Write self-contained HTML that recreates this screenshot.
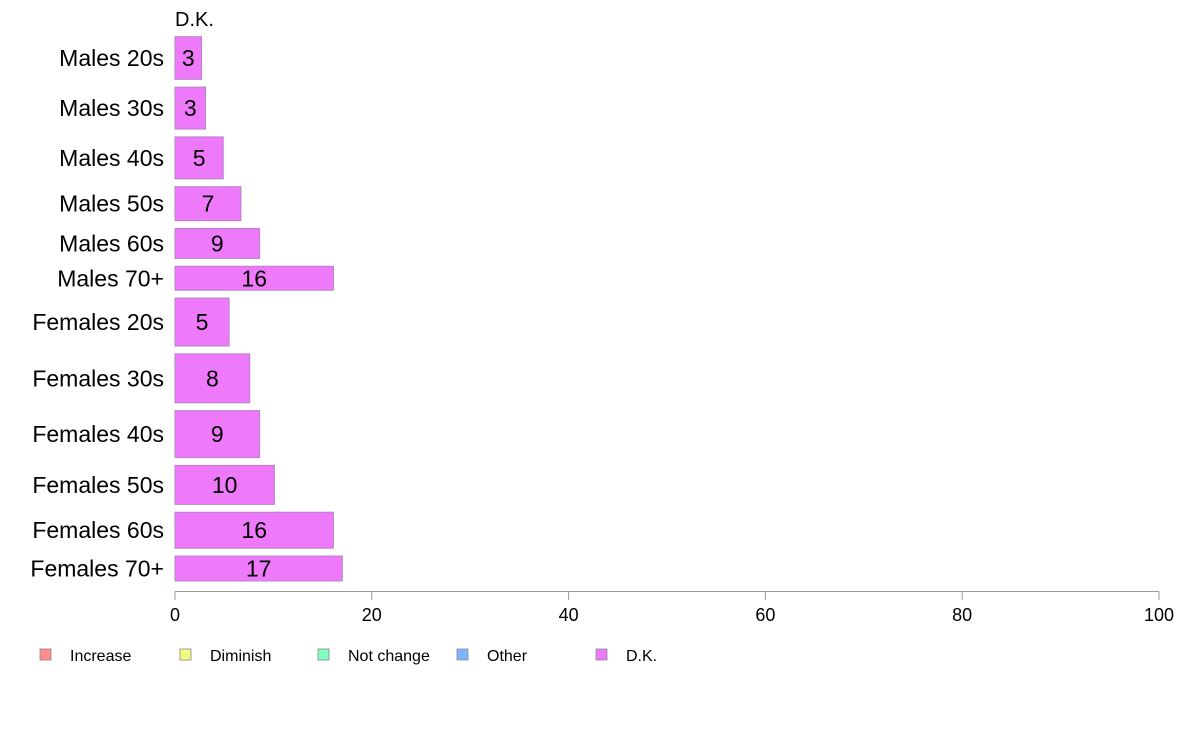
<!DOCTYPE html>
<html><head><meta charset="utf-8"><style>
body{margin:0;background:#fff;font-family:"Liberation Sans",Arial,sans-serif}
</style></head><body>
<svg id="chart" width="1188" height="736" xmlns="http://www.w3.org/2000/svg" font-family="Liberation Sans, Arial, sans-serif">
<text x="175" y="26" font-size="20">D.K.</text>
<g id="bars"></g>
<g id="axis"></g>
<g id="legend"></g>
</svg>
<script>
const categories=["Males 20s","Males 30s","Males 40s","Males 50s","Males 60s","Males 70+","Females 20s","Females 30s","Females 40s","Females 50s","Females 60s","Females 70+"];
const values=[2.7,3.1,4.9,6.7,8.6,16.1,5.5,7.6,8.6,10.1,16.1,17.0];
const labels=["3","3","5","7","9","16","5","8","9","10","16","17"];
const weights=[42.6,42,42,34,30,24,48,49,47,39,36,25];
const ticks=[0,20,40,60,80,100];
const legendNames=["Increase","Diminish","Not change","Other","D.K."];
const legendColors=["#FF8C8C","#F0FF80","#80FFC0","#80B4FF","#EE7AFB"];
const NS="http://www.w3.org/2000/svg";
const x0=175,x1=1159,yTop=36.7,yBot=581,gap=7.8;
const xs=v=>x0+(x1-x0)*v/100;
const totalW=weights.reduce((a,b)=>a+b,0);
const scaleH=(yBot-yTop-gap*(weights.length-1))/totalW;
function mk(tag,attrs,parent){const e=document.createElementNS(NS,tag);for(const k in attrs)e.setAttribute(k,attrs[k]);parent.appendChild(e);return e;}
const bars=document.getElementById('bars');
let y=yTop;
categories.forEach((c,i)=>{
 const h=weights[i]*scaleH;
 const r=mk('rect',{x:x0,y:y,width:xs(values[i])-x0,height:h,fill:"#EE7AFB",stroke:"#B585C5","stroke-width":1},bars);
 
 
 const t=mk('text',{x:(x0+xs(values[i]))/2,y:y+h/2+8,"font-size":23,"text-anchor":"middle"},bars);
 t.textContent=labels[i];
 
 
 const l=mk('text',{x:164,y:y+h/2+8,"font-size":23,"text-anchor":"end"},bars);
 l.textContent=c;
 
 
 y+=h+gap;
});
const ax=document.getElementById('axis');
const al=mk('line',{x1:x0,x2:x1,y1:591.5,y2:591.5,stroke:"#999","stroke-width":1},ax);


ticks.forEach(v=>{
 const tl=mk('line',{x1:xs(v),x2:xs(v),y1:591.5,y2:600,stroke:"#999"},ax);
 
 
 const tt=mk('text',{x:xs(v),y:621,"font-size":18,"text-anchor":"middle"},ax);
 tt.textContent=v;
 
 
});
const lg=document.getElementById('legend');
const lx=[40,180,318,457,596];
legendNames.forEach((n,i)=>{
 const s=mk('rect',{x:lx[i],y:649,width:11,height:11,fill:legendColors[i],stroke:"#888","stroke-width":0.8},lg);
 
 
 const t=mk('text',{x:lx[i]+30,y:661,"font-size":16},lg);
 t.textContent=n;
 
 
});
</script>
</body></html>
